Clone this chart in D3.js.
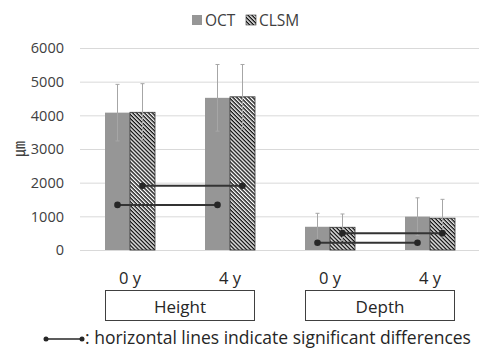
<!DOCTYPE html>
<html>
<head>
<meta charset="utf-8">
<script src="https://cdn.jsdelivr.net/npm/d3@7"></script>
<style>
  body { margin: 0; background: #fff; }
  text { font-family: "Open Sans", sans-serif; fill: #404040; }
</style>
</head>
<body>
<svg width="479" height="348"></svg>
<script>
// data
var groups = ["Height", "Depth"];
var times = ["0 y", "4 y"];
var series = ["OCT", "CLSM"];
var octMean = [4080, 4520, 690, 990];
var octErr = [840, 990, 400, 560];
var clsmMean = [4090, 4550, 675, 945];
var clsmErr = [850, 960, 395, 560];
// significance lines: [series, from index, to index, y value]
var sigLines = [
	["OCT", 0, 1, 1340],
	["CLSM", 0, 1, 1910],
	["OCT", 2, 3, 215],
	["CLSM", 2, 3, 500]
];
var yTicks = [0, 1000, 2000, 3000, 4000, 5000, 6000];

var svg = d3.select("svg");

var keys = [];
groups.forEach((g) => times.forEach((t) => keys.push(g + " " + t)));

var x = d3.scaleBand().domain(keys).range([80, 480]);
var xs = d3.scaleBand().domain(series).range([0, x.bandwidth()]).paddingOuter(1);
var y = d3.scaleLinear().domain([0, 6000]).range([250, 48]);

var defs = svg.append("defs");
var pat = defs.append("pattern")
	.attr("id", "hatch")
	.attr("patternUnits", "userSpaceOnUse")
	.attr("width", 2.8).attr("height", 2.8)
	.attr("patternTransform", "rotate(45)");
pat.append("rect").attr("width", 2.8).attr("height", 2.8).attr("fill", "#fff");
pat.append("rect").attr("width", 2.8).attr("height", 1.4).attr("fill", "#111");

// gridlines + y labels
svg.append("g").selectAll("line").data(yTicks).enter().append("line")
	.attr("x1", 80).attr("x2", 479)
	.attr("y1", (d) => y(d) + 0.5).attr("y2", (d) => y(d) + 0.5)
	.attr("stroke", "#d9d9d9").attr("stroke-width", 1);

svg.append("g").selectAll("text").data(yTicks).enter().append("text")
	.attr("x", 64).attr("y", (d) => y(d))
	.attr("dy", "0.36em")
	.attr("text-anchor", "end")
	.style("font-size", "14.5px")
	.text((d) => d);

svg.append("text")
	.attr("transform", "translate(25," + y(3000) + ") rotate(-90)")
	.attr("text-anchor", "middle")
	.style("font-family", "'Noto Sans CJK JP'")
	.style("font-size", "16px")
	.text("㎛");

// bars
var rows = keys.map((k, i) => ({
	key: k,
	vals: [
		{ s: "OCT", v: octMean[i], e: octErr[i] },
		{ s: "CLSM", v: clsmMean[i], e: clsmErr[i] }
	]
}));

var cat = svg.append("g").selectAll("g").data(rows).enter().append("g")
	.attr("transform", (d) => "translate(" + x(d.key) + ",0)");

cat.selectAll("rect").data((d) => d.vals).enter().append("rect")
	.attr("x", (d) => xs(d.s))
	.attr("width", xs.bandwidth())
	.attr("y", (d) => y(d.v))
	.attr("height", (d) => y(0) - y(d.v))
	.attr("fill", (d) => (d.s == "OCT" ? "#969696" : "url(#hatch)"))
	.attr("stroke", (d) => (d.s == "OCT" ? "none" : "#333"))
	.attr("stroke-width", 0.8);

// error bars
var eb = cat.selectAll("g.err").data((d) => d.vals).enter().append("g").attr("class", "err");
eb.append("line")
	.attr("x1", (d) => xs(d.s) + xs.bandwidth() / 2)
	.attr("x2", (d) => xs(d.s) + xs.bandwidth() / 2)
	.attr("y1", (d) => y(d.v - d.e))
	.attr("y2", (d) => y(d.v + d.e))
	.attr("stroke", "#a6a6a6").attr("stroke-width", 1);
eb.append("line")
	.attr("x1", (d) => xs(d.s) + xs.bandwidth() / 2 - 2)
	.attr("x2", (d) => xs(d.s) + xs.bandwidth() / 2 + 2)
	.attr("y1", (d) => y(d.v + d.e))
	.attr("y2", (d) => y(d.v + d.e))
	.attr("stroke", "#a6a6a6").attr("stroke-width", 1);
eb.append("line")
	.attr("x1", (d) => xs(d.s) + xs.bandwidth() / 2 - 2)
	.attr("x2", (d) => xs(d.s) + xs.bandwidth() / 2 + 2)
	.attr("y1", (d) => y(d.v - d.e))
	.attr("y2", (d) => y(d.v - d.e))
	.attr("stroke", "#a6a6a6").attr("stroke-width", 1);

// significance lines
var cx = (s, i) => x(keys[i]) + xs(s) + xs.bandwidth() / 2;
var sig = svg.append("g").selectAll("g").data(sigLines).enter().append("g");
sig.append("line")
	.attr("x1", (d) => cx(d[0], d[1])).attr("x2", (d) => cx(d[0], d[2]))
	.attr("y1", (d) => y(d[3])).attr("y2", (d) => y(d[3]))
	.attr("stroke", "#333").attr("stroke-width", 2);
sig.append("circle").attr("cx", (d) => cx(d[0], d[1])).attr("cy", (d) => y(d[3])).attr("r", 3.3).attr("fill", "#262626");
sig.append("circle").attr("cx", (d) => cx(d[0], d[2])).attr("cy", (d) => y(d[3])).attr("r", 3.3).attr("fill", "#262626");

// category labels
svg.append("g").selectAll("text").data(keys).enter().append("text")
	.attr("x", (d) => x(d) + x.bandwidth() / 2)
	.attr("y", 284)
	.attr("text-anchor", "middle")
	.style("font-size", "16.5px")
	.style("fill", "#262626")
	.text((d, i) => times[i % 2]);

// group boxes
var gb = svg.append("g").selectAll("g").data(groups).enter().append("g");
gb.append("rect")
	.attr("x", (d, i) => x(keys[i * 2]) + 25.5)
	.attr("y", 290.5)
	.attr("width", x.bandwidth() + 50 - 1)
	.attr("height", 30)
	.attr("fill", "#fff").attr("stroke", "#404040").attr("stroke-width", 1);
gb.append("text")
	.attr("x", (d, i) => x(keys[i * 2]) + x.bandwidth())
	.attr("y", 313)
	.attr("text-anchor", "middle")
	.style("font-size", "17px")
	.style("fill", "#262626")
	.text((d) => d);

// legend
var leg = svg.append("g");
leg.append("rect").attr("x", 192).attr("y", 15).attr("width", 10).attr("height", 10).attr("fill", "#969696");
leg.append("text").attr("x", 205).attr("y", 20).attr("dy", "0.36em").style("font-size", "15.5px").text("OCT");
leg.append("rect").attr("x", 246).attr("y", 15).attr("width", 10).attr("height", 10)
	.attr("fill", "url(#hatch)").attr("stroke", "#333").attr("stroke-width", 0.6);
leg.append("text").attr("x", 259).attr("y", 20).attr("dy", "0.36em").style("font-size", "15.5px").text("CLSM");

// note at the bottom
svg.append("line").attr("x1", 46).attr("x2", 82).attr("y1", 339).attr("y2", 339)
	.attr("stroke", "#262626").attr("stroke-width", 1.5);
svg.append("circle").attr("cx", 46).attr("cy", 339).attr("r", 2.5).attr("fill", "#262626");
svg.append("circle").attr("cx", 82).attr("cy", 339).attr("r", 2.5).attr("fill", "#262626");
svg.append("text").attr("x", 85).attr("y", 344)
	.style("font-size", "17.5px").style("fill", "#262626")
	.text(": horizontal lines indicate significant differences");
</script>
</body>
</html>
